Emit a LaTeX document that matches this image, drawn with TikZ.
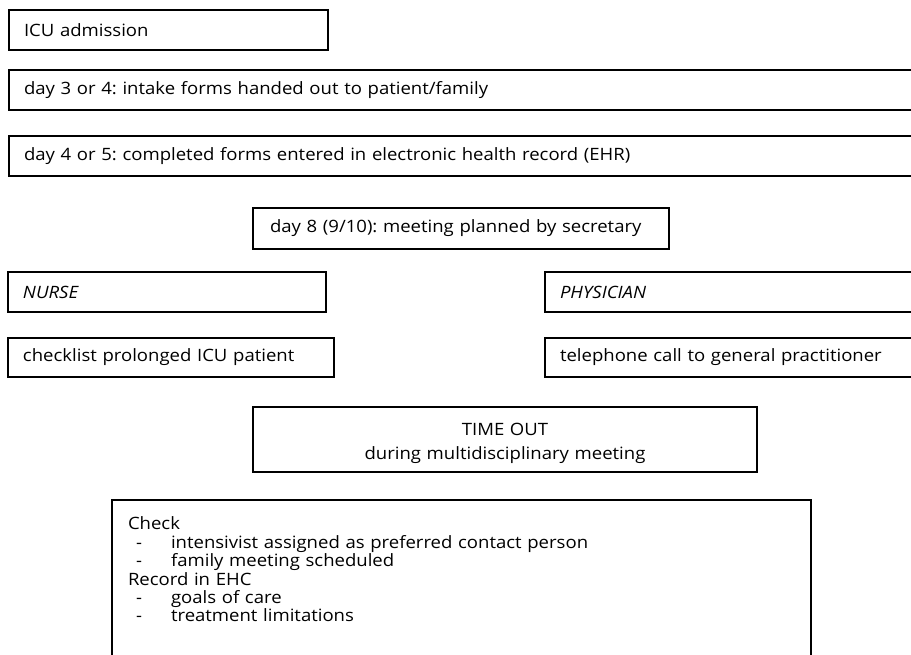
\documentclass[tikz,border=0pt]{standalone}
\usepackage{fontspec}
\setmainfont{Open Sans}[FakeStretch=1.09]
\frenchspacing
\newcommand\tightlines{\lineskiplimit=-20pt\relax}
\newcommand\itemline[1]{\hspace*{8pt}\makebox[35pt][l]{-}#1}
\begin{document}
\begin{tikzpicture}[x=1pt,y=-1pt,
  every node/.style={font=\fontsize{17}{21}\selectfont},
  box/.style={draw, line width=1.7pt, outer sep=0pt, anchor=north west,
    align=left, inner ysep=0pt},
  role/.style={box, font=\fontsize{17}{21}\selectfont\itshape}]
\useasboundingbox (0,0) rectangle (911,655);
\clip (0,0) rectangle (911,655);

% admission and intake steps
\node[box, inner xsep=15pt, text width=289pt, minimum height=40pt] (icu) at (9,10) {ICU admission};
\node[box, inner xsep=15pt, text width=920pt, minimum height=40pt] (intake) at (9,70)
  {day 3 or 4: intake forms handed out to patient/family};
\node[box, inner xsep=15pt, text width=920pt, minimum height=40pt] (ehr) at (9,136)
  {day 4 or 5: completed forms entered in electronic health record (EHR)};
\node[box, inner xsep=17pt, text width=382pt, minimum height=41pt] (plan) at (253,208)
  {day 8 (9/10): meeting planned by secretary};

% tasks per discipline
\node[role, inner xsep=15pt, text width=288pt, minimum height=40pt] (nurse) at (8,272) {NURSE};
\node[role, inner xsep=15pt, text width=390pt, minimum height=40pt] (phys) at (545,272) {PHYSICIAN};
\node[box, inner xsep=15pt, text width=296pt, minimum height=39pt] (check) at (8,338)
  {checklist prolonged ICU patient};
\node[box, inner xsep=15pt, text width=390pt, minimum height=39pt] (gp) at (545,338)
  {telephone call to general practitioner};

% time out
\node[box, align=center, inner xsep=0pt, text width=504pt, minimum height=65pt] (timeout) at (253,407)
  {\rule{0pt}{20pt}TIME OUT\\[3pt]during multidisciplinary meeting};

% items checked and recorded
\node[box, inner xsep=16pt, inner ysep=17pt, text width=667pt, text depth=170pt,
  font=\fontsize{17}{18.4}\selectfont\tightlines] (items) at (112,500)
  {Check\\
   \itemline{intensivist assigned as preferred contact person}\\
   \itemline{family meeting scheduled}\\
   Record in EHC\\
   \itemline{goals of care}\\
   \itemline{treatment limitations}};
\end{tikzpicture}
\end{document}
